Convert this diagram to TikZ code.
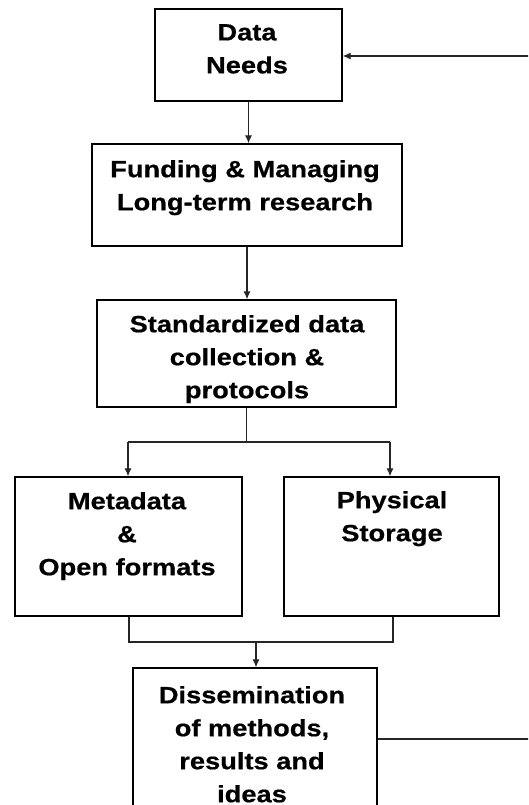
\documentclass[tikz,border=0pt]{standalone}
\usepackage{fontspec}
\newfontfamily\lblfont[FakeStretch=1.16, BoldFeatures={FakeBold=0.6}]{Liberation Sans}
\usetikzlibrary{arrows.meta,calc}
\begin{document}
\begin{tikzpicture}[x=1pt,y=-1pt,
  box/.style={draw=black, line width=1.3pt, inner sep=0pt, fill=white},
  lbl/.style={font=\lblfont\bfseries\fontsize{23.5}{33}\selectfont, align=center, anchor=north, inner sep=0pt},
  conn/.style={draw=black!85, line width=1.2pt},
  arr/.style={conn, -{Latex[length=8pt,width=7pt]}}]
\useasboundingbox (0,0) rectangle (528,805);
\clip (0,0) rectangle (528,805);
\fill[white] (0,0) rectangle (528,805);
% boxes
\node[box, minimum width=187pt, minimum height=92pt] (dn) at (248.5,55) {};
\node[box, minimum width=310pt, minimum height=102pt] (fund) at (247,195) {};
\node[box, minimum width=299pt, minimum height=107pt] (std) at (246.5,353.5) {};
\node[box, minimum width=227pt, minimum height=139pt] (meta) at (128.5,546.5) {};
\node[box, minimum width=215pt, minimum height=139pt] (phys) at (391.5,546.5) {};
\node[box, minimum width=244pt, minimum height=167pt] (diss) at (255,751.5) {};
% labels
\node[lbl] (tdn) at (247,24) {Data\\Needs};
\node[lbl] (tfund) at (245,160) {Funding \& Managing\\Long-term research};
\node[lbl] (tstd) at (247,315) {Standardized data\\collection \&\\protocols};
\node[lbl] (tmeta) at (127,492) {Metadata\\\&\\Open formats};
\node[lbl] (tphys) at (392,491) {Physical\\Storage};
\node[lbl] (tdiss) at (252,686) {Dissemination\\of methods,\\results and\\ideas};
% connectors
\draw[arr] (dn.south) -- (dn.south |- fund.north);
\draw[arr] (fund.south) -- (fund.south |- std.north);
\coordinate (split) at (246,442);
\coordinate (sl) at (128,442);
\coordinate (sr) at (390,442);
\draw[conn] (std.south) -- (std.south |- split);
\draw[conn] (sl) -- (sr);
\draw[arr] (sl) -- (sl |- meta.north);
\draw[arr] (sr) -- (sr |- phys.north);
\coordinate (ml) at (129,642);
\coordinate (mr) at (393,642);
\coordinate (mm) at (256,642);
\draw[conn] (ml |- meta.south) -- (ml) -- (mr) -- (mr |- phys.south);
\draw[arr] (mm) -- (mm |- diss.north);
\coordinate (fb1) at (540,739);
\coordinate (fb2) at (540,56);
\draw[arr] (diss.east |- fb1) -- (fb1) -- (fb2) -- (dn.east |- fb2);
\end{tikzpicture}
\end{document}
